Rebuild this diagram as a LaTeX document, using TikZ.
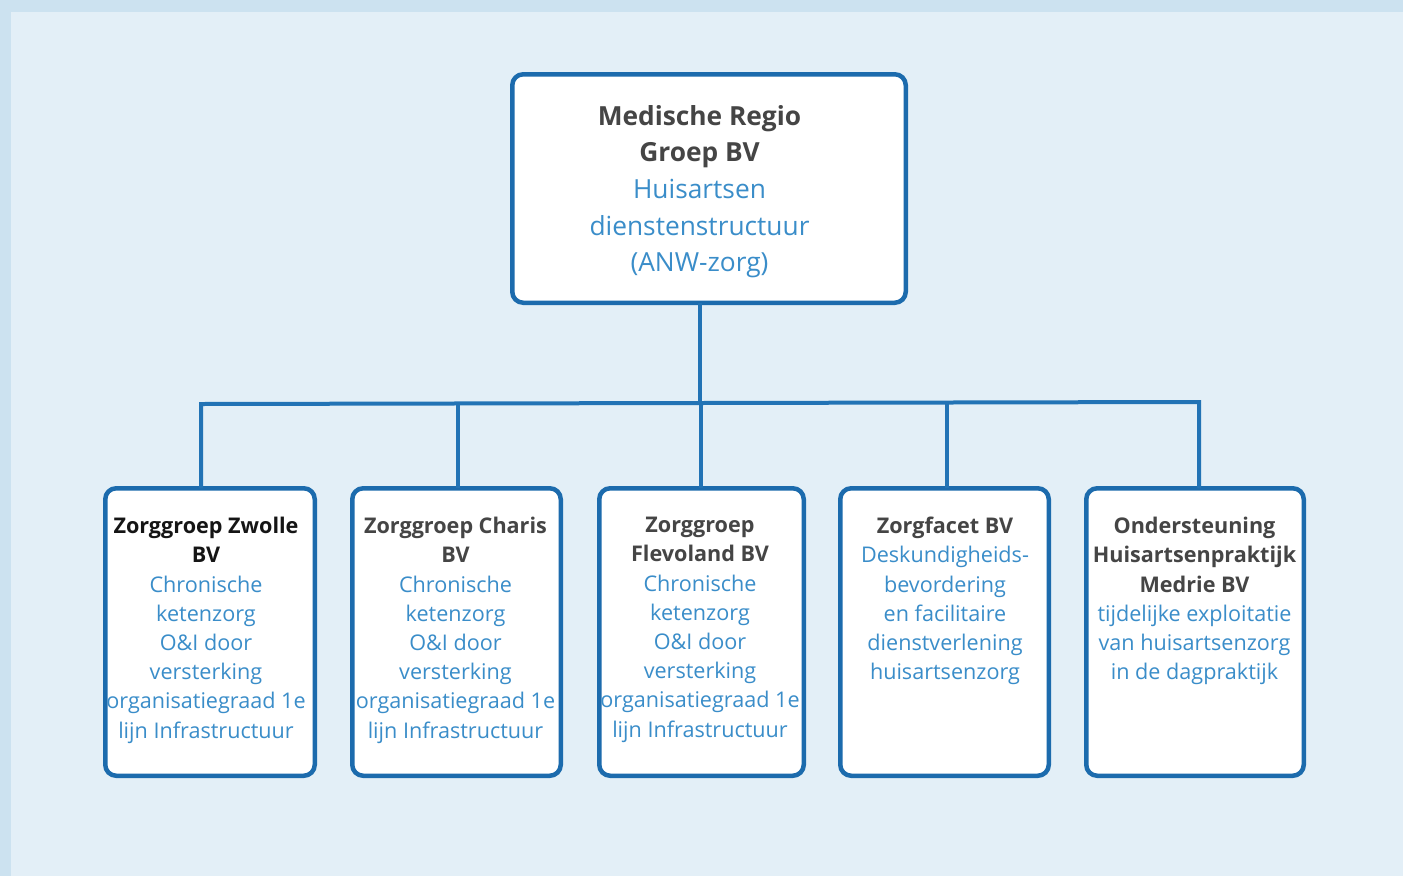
\documentclass[tikz,border=0pt]{standalone}
\usepackage{fontspec}
\setmainfont{Open Sans}
\definecolor{bandc}{HTML}{CCE2F0}
\definecolor{bgc}{HTML}{E3EFF7}
\definecolor{borderc}{HTML}{1C6BAD}
\definecolor{linec}{HTML}{2273B5}
\definecolor{bluetext}{HTML}{3A8DC9}
\definecolor{titlec}{HTML}{454545}
\definecolor{blacktitle}{HTML}{151515}
\tikzset{
  orgbox/.style={draw=borderc, line width=4.5pt, fill=white, rounded corners=11pt,
    inner sep=0pt, outer sep=0pt, anchor=north west},
  toptext/.style={align=center, inner sep=0pt, anchor=north, text=bluetext,
    font=\fontsize{26.3}{36.7}\selectfont},
  subtext/.style={align=center, inner sep=0pt, anchor=north, text=bluetext,
    font=\fontsize{21.6}{29.2}\selectfont},
  conn/.style={draw=linec, line width=4pt},
}
\newcommand{\ttl}[1]{\textcolor{titlec}{\bfseries #1}}
\newcommand{\ttlb}[1]{\textcolor{blacktitle}{\bfseries #1}}
\begin{document}
\begin{tikzpicture}[x=1pt,y=-1pt]
\fill[bandc] (0,0) rectangle (1403,876);
\fill[bgc] (11,12) rectangle (1403,876);
\useasboundingbox (0,0) rectangle (1403,876);

% junction coordinates
\coordinate (hub) at (700,403);
\coordinate (j1) at (201,404);
\coordinate (j2) at (458,403.5);
\coordinate (j3) at (701,403);
\coordinate (j4) at (947,402.5);
\coordinate (j5) at (1199,402);

% boxes
\node[orgbox, minimum width=393.5pt, minimum height=228.5pt] (top) at (512.25,74.25) {};
\node[orgbox, minimum width=209.5pt, minimum height=287.5pt] (b1) at (105.25,488.25) {};
\node[orgbox, minimum width=208.5pt, minimum height=287.5pt] (b2) at (352.25,488.25) {};
\node[orgbox, minimum width=204.5pt, minimum height=287.5pt] (b3) at (599.25,488.25) {};
\node[orgbox, minimum width=208.5pt, minimum height=287.5pt] (b4) at (840.25,488.25) {};
\node[orgbox, minimum width=217.5pt, minimum height=287.5pt] (b5) at (1086.25,488.25) {};

% connectors
\draw[conn] (top.south -| hub) -- (hub);
\draw[conn] (b1.north -| j1) -- (j1) -- (j5) -- (b5.north -| j5);
\draw[conn] (j2) -- (b2.north -| j2);
\draw[conn] (j3) -- (b3.north -| j3);
\draw[conn] (j4) -- (b4.north -| j4);

% texts
\node[toptext] (ttop) at (699.5,105) {\ttl{Medische Regio}\\ \ttl{Groep BV}\\ Huisartsen\\ dienstenstructuur\\ (ANW-zorg)};
\node[subtext] (t1) at (206,517) {\ttlb{Zorggroep Zwolle}\\ \ttlb{BV}\\ Chronische\\ ketenzorg\\ O\&I door\\ versterking\\ organisatiegraad 1e\\ lijn Infrastructuur};
\node[subtext] (t2) at (455.5,517) {\ttl{Zorggroep Charis}\\ \ttl{BV}\\ Chronische\\ ketenzorg\\ O\&I door\\ versterking\\ organisatiegraad 1e\\ lijn Infrastructuur};
\node[subtext] (t3) at (700,517) {\ttl{Zorggroep}\\ \ttl{Flevoland BV}\\ Chronische\\ ketenzorg\\ O\&I door\\ versterking\\ organisatiegraad 1e\\ lijn Infrastructuur};
\node[subtext] (t4) at (945,517) {\ttl{Zorgfacet BV}\\ Deskundigheids-\\ bevordering\\ en facilitaire\\ dienstverlening\\ huisartsenzorg};
\node[subtext] (t5) at (1194.5,517) {\ttl{Ondersteuning}\\ \ttl{Huisartsenpraktijk}\\ \ttl{Medrie BV}\\ tijdelijke exploitatie\\ van huisartsenzorg\\ in de dagpraktijk};
\end{tikzpicture}
\end{document}
